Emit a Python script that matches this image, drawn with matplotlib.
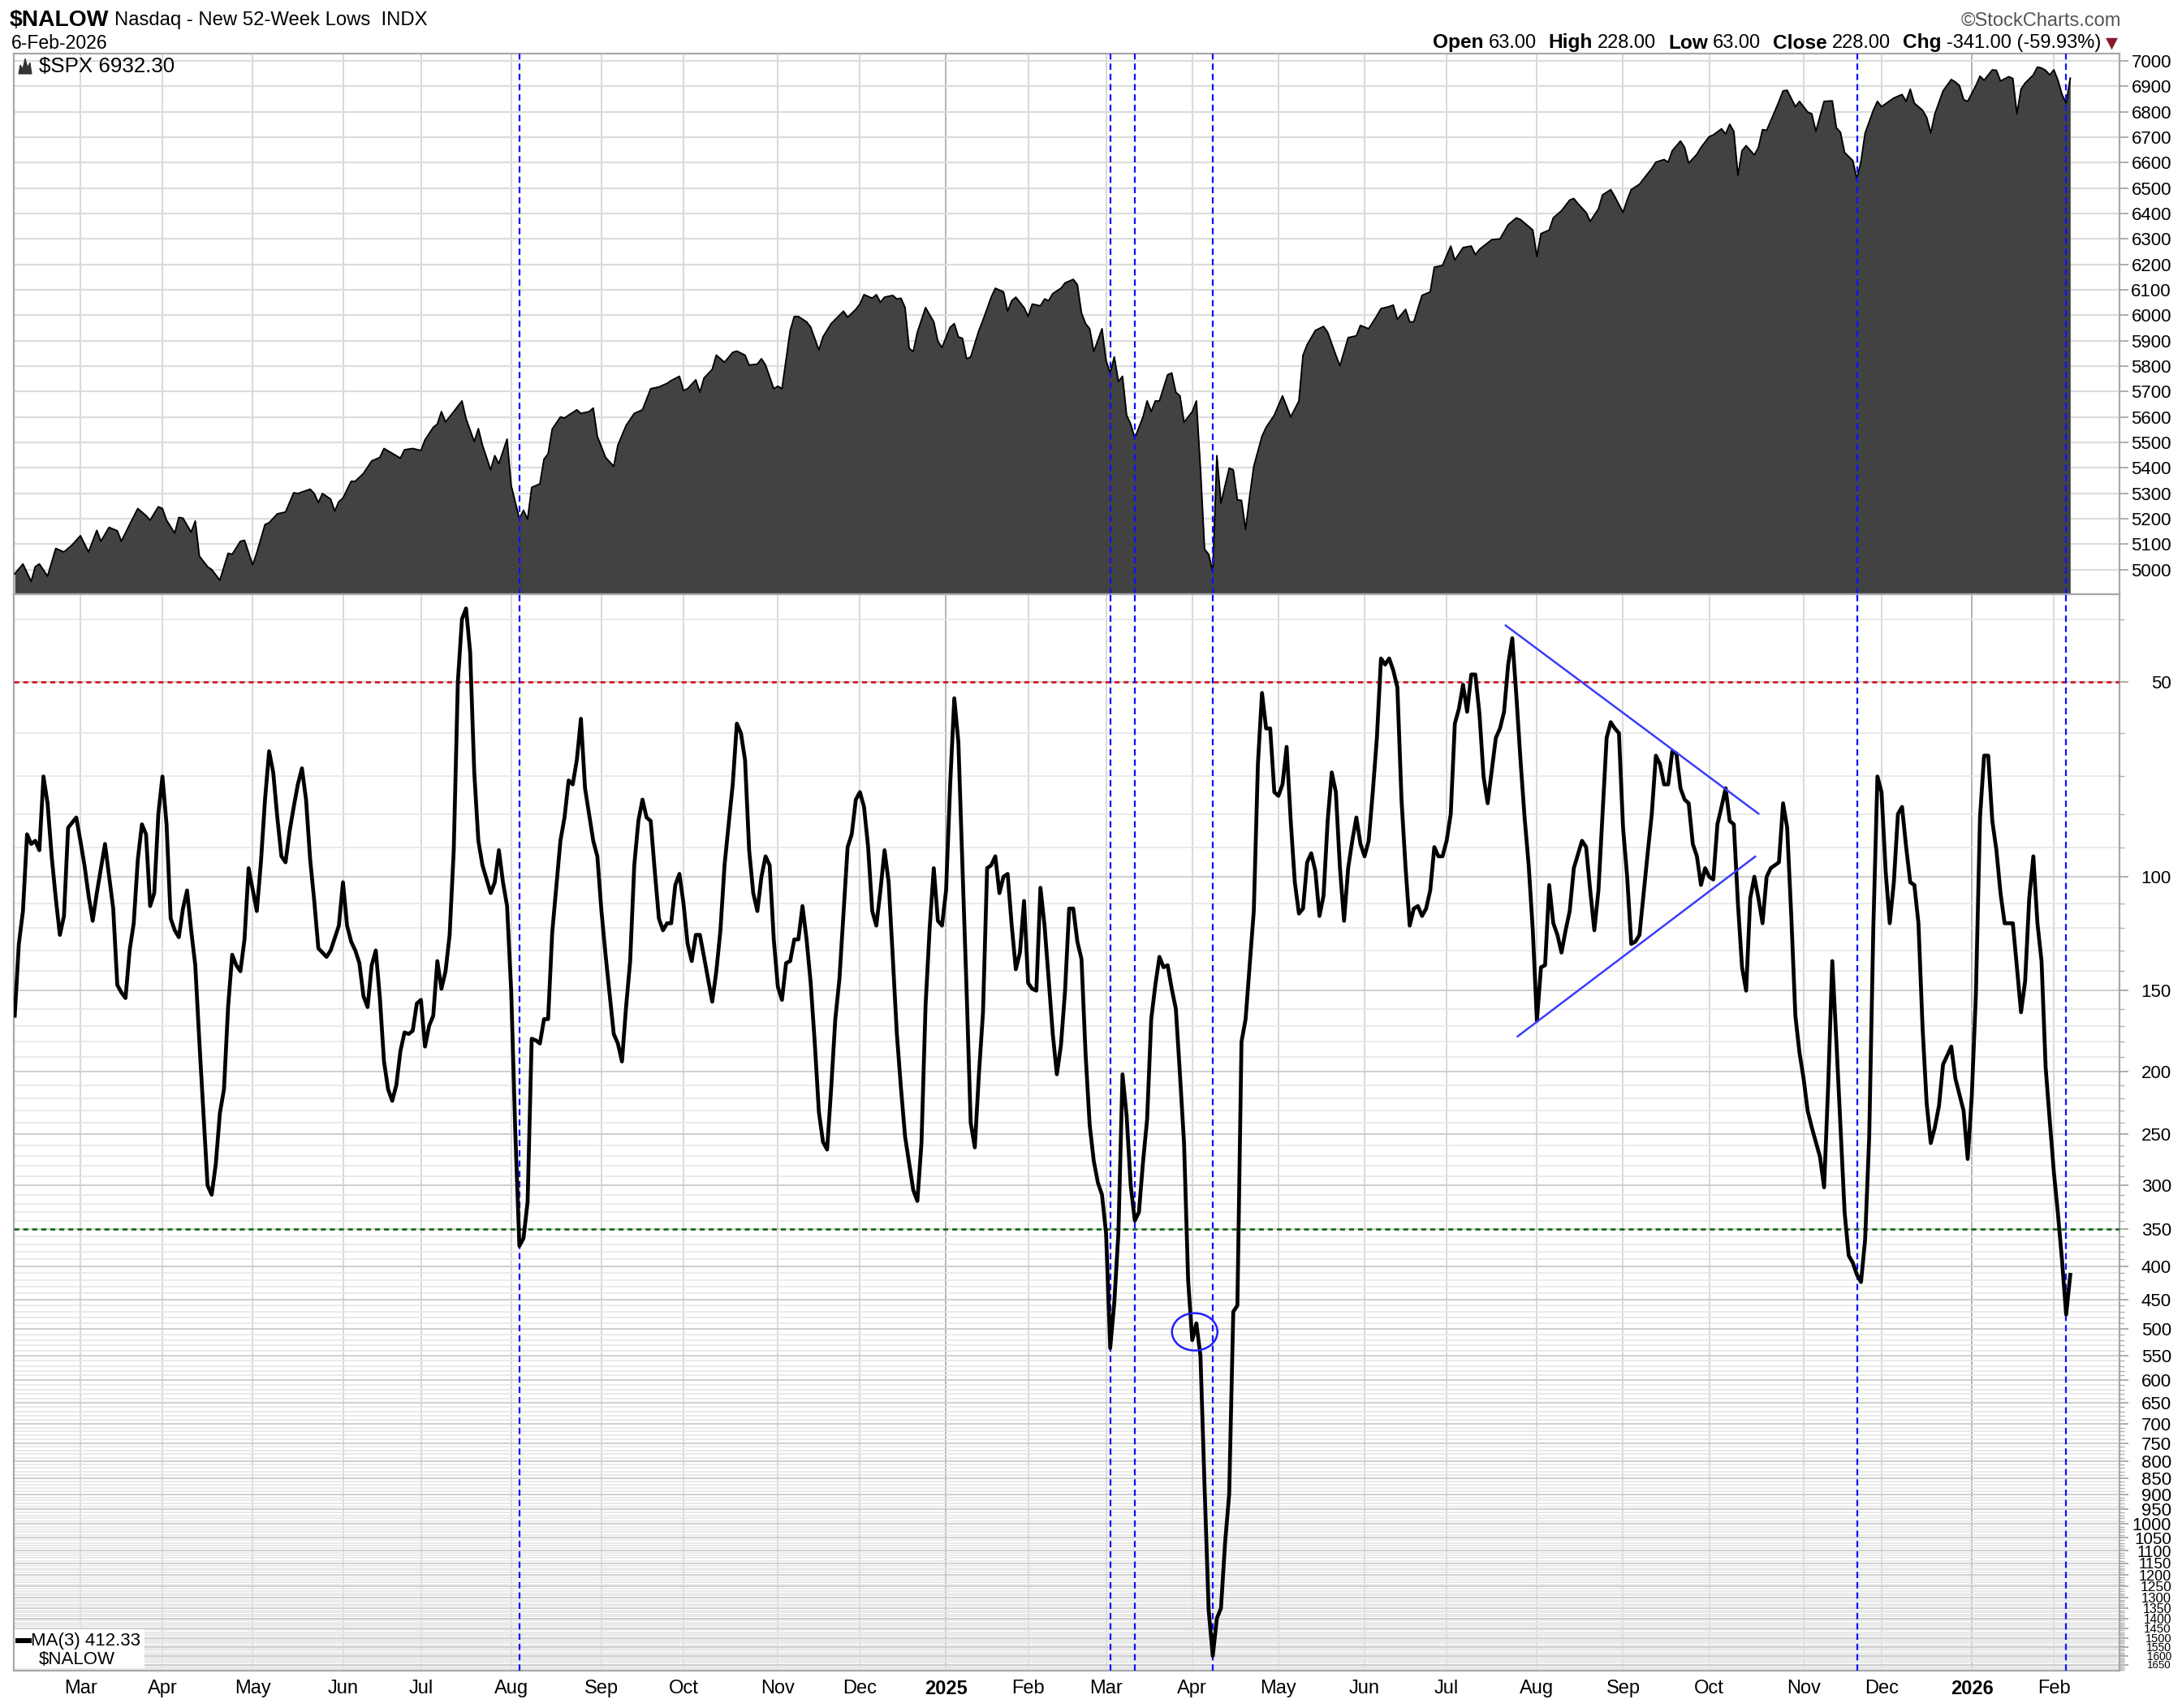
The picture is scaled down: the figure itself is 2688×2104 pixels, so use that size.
import numpy as np
import pandas as pd
import matplotlib
matplotlib.use('Agg')
import matplotlib.pyplot as plt
from matplotlib.patches import Ellipse, Polygon
from matplotlib.lines import Line2D
from matplotlib.transforms import ScaledTranslation
from matplotlib.ticker import FixedLocator, FixedFormatter, NullFormatter

# NYSE trading calendar, session 0 = 6-Feb-2024
holidays = ['2024-02-19', '2024-03-29', '2024-05-27', '2024-06-19', '2024-07-04',
            '2024-09-02', '2024-11-28', '2024-12-25', '2025-01-01', '2025-01-09',
            '2025-01-20', '2025-02-17', '2025-04-18', '2025-05-26', '2025-06-19',
            '2025-07-04', '2025-09-01', '2025-11-27', '2025-12-25', '2026-01-01',
            '2026-01-19', '2026-02-16']
sessions = pd.bdate_range('2024-02-06', '2026-03-31', freq='C', holidays=holidays)

# $SPX close (session number, close)
spx_day = [1, 3, 5, 6, 7, 9, 11, 13, 15, 17, 19, 21, 22, 24, 26, 27, 29, 31, 33, 34,
           36, 37, 38, 40, 41, 42, 44, 45, 46, 48, 49, 51, 53, 54, 56, 57, 59, 60, 62, 63,
           65, 67, 69, 70, 73, 74, 75, 76, 78, 79, 80, 81, 83, 84, 86, 88, 90, 91, 93, 95,
           96, 98, 100, 101, 103, 104, 105, 106, 108, 110, 111, 113, 114, 115, 117, 118, 119, 121, 122, 124,
           125, 126, 127, 129, 130, 131, 132, 134, 135, 136, 138, 139, 141, 142, 143, 145, 147, 148, 150, 152,
           154, 156, 158, 160, 161, 163, 164, 165, 167, 168, 169, 171, 172, 174, 176, 177, 179, 180, 182, 183,
           184, 186, 187, 188, 190, 191, 192, 194, 195, 197, 198, 200, 203, 204, 206, 207, 208, 210, 211, 212,
           213, 215, 216, 217, 218, 219, 220, 221, 223, 225, 226, 227, 229, 230, 231, 232, 233, 234, 236, 237,
           239, 240, 242, 243, 244, 245, 247, 248, 249, 251, 252, 253, 254, 256, 257, 259, 260, 261, 262, 263,
           264, 266, 267, 268, 269, 270, 271, 272, 273, 274, 276, 277, 278, 279, 280, 282, 283, 284, 285, 286,
           288, 289, 290, 291, 292, 293, 294, 295, 297, 298, 299, 300, 301, 302, 303, 305, 306, 308, 310, 312,
           314, 315, 316, 318, 320, 321, 323, 324, 326, 328, 329, 331, 333, 334, 336, 337, 338, 340, 341, 342,
           344, 346, 347, 349, 351, 352, 354, 356, 357, 358, 361, 363, 365, 367, 368, 370, 371, 372, 373, 375,
           376, 378, 380, 381, 382, 384, 385, 387, 388, 390, 391, 393, 394, 395, 397, 398, 400, 401, 403, 404,
           405, 407, 408, 409, 411, 412, 414, 415, 417, 418, 419, 420, 421, 422, 423, 425, 426, 427, 428, 430,
           431, 432, 433, 435, 436, 438, 439, 440, 442, 444, 445, 446, 447, 449, 450, 451, 452, 454, 455, 456,
           458, 459, 461, 462, 463, 464, 466, 467, 468, 469, 471, 473, 474, 475, 476, 477, 479, 480, 481, 483,
           484, 485, 487, 488, 489, 490, 491, 493, 494, 495, 496, 497, 498, 499, 500, 501, 502]
spx_close = [4983, 5022, 4953, 5011, 5022, 4974, 5083, 5069, 5097, 5133, 5069, 5154, 5111, 5166, 5152, 5111, 5177, 5240, 5212, 5194,
             5247, 5240, 5194, 5143, 5205, 5202, 5147, 5191, 5053, 5011, 5000, 4958, 5064, 5060, 5111, 5115, 5018, 5066, 5177, 5184,
             5219, 5226, 5302, 5299, 5316, 5299, 5263, 5299, 5277, 5230, 5267, 5281, 5347, 5347, 5378, 5427, 5441, 5476, 5457, 5438,
             5471, 5476, 5468, 5510, 5559, 5572, 5621, 5580, 5621, 5663, 5593, 5503, 5554, 5489, 5392, 5448, 5416, 5513, 5330, 5200,
             5233, 5198, 5323, 5337, 5434, 5455, 5552, 5600, 5596, 5607, 5628, 5614, 5621, 5635, 5524, 5441, 5406, 5489, 5566, 5614,
             5628, 5711, 5718, 5732, 5743, 5760, 5704, 5711, 5746, 5697, 5753, 5787, 5843, 5815, 5854, 5859, 5843, 5804, 5808, 5829,
             5804, 5711, 5721, 5711, 5940, 5995, 5995, 5974, 5953, 5863, 5915, 5967, 6016, 5992, 6023, 6044, 6081, 6067, 6081, 6051,
             6071, 6078, 6064, 6067, 6030, 5870, 5857, 5933, 6030, 5974, 5898, 5873, 5953, 5967, 5915, 5909, 5829, 5836, 5940, 5981,
             6071, 6106, 6092, 6016, 6057, 6071, 6030, 5995, 6044, 6037, 6064, 6057, 6085, 6106, 6127, 6141, 6120, 6009, 5967, 5947,
             5857, 5947, 5822, 5773, 5836, 5739, 5760, 5607, 5572, 5517, 5600, 5663, 5621, 5663, 5663, 5766, 5773, 5697, 5683, 5579,
             5621, 5663, 5396, 5080, 5060, 4990, 5448, 5261, 5399, 5392, 5274, 5272, 5157, 5288, 5406, 5524, 5559, 5607, 5683, 5600,
             5663, 5843, 5884, 5940, 5956, 5933, 5843, 5801, 5912, 5919, 5960, 5947, 5998, 6026, 6034, 6040, 5984, 6023, 5974, 5974,
             6078, 6092, 6189, 6196, 6272, 6217, 6266, 6272, 6238, 6259, 6297, 6300, 6356, 6383, 6376, 6349, 6335, 6231, 6321, 6335,
             6383, 6411, 6453, 6459, 6439, 6404, 6369, 6418, 6473, 6494, 6466, 6404, 6453, 6494, 6515, 6536, 6577, 6602, 6612, 6602,
             6647, 6685, 6660, 6598, 6633, 6660, 6702, 6709, 6733, 6713, 6751, 6723, 6550, 6647, 6667, 6630, 6660, 6730, 6727, 6802,
             6841, 6882, 6885, 6820, 6841, 6799, 6792, 6723, 6841, 6843, 6737, 6719, 6640, 6608, 6536, 6605, 6716, 6806, 6841, 6820,
             6843, 6854, 6868, 6841, 6889, 6834, 6806, 6778, 6716, 6792, 6882, 6927, 6917, 6903, 6848, 6841, 6903, 6940, 6924, 6965,
             6963, 6921, 6938, 6931, 6792, 6889, 6913, 6945, 6976, 6972, 6963, 6945, 6965, 6924, 6868, 6834, 6932.3]

# $NALOW 3-day moving average (session number, value)
nalow_day = [1, 2, 3, 4, 5, 6, 7, 8, 9, 10, 11, 12, 13, 14, 16, 17, 18, 19, 20, 21,
             23, 25, 26, 27, 28, 29, 30, 31, 32, 33, 34, 35, 36, 37, 38, 39, 40, 41, 42, 43,
             44, 45, 46, 47, 48, 49, 50, 51, 52, 53, 54, 55, 56, 57, 58, 60, 61, 62, 63, 64,
             65, 66, 67, 68, 69, 70, 71, 72, 73, 74, 75, 76, 77, 78, 80, 81, 82, 83, 84, 85,
             86, 87, 88, 89, 90, 91, 92, 93, 94, 95, 96, 97, 98, 99, 100, 101, 102, 103, 104, 105,
             106, 107, 108, 109, 110, 111, 112, 113, 114, 115, 117, 118, 119, 120, 121, 122, 123, 124, 125, 126,
             127, 128, 129, 130, 131, 132, 134, 135, 136, 137, 138, 139, 140, 142, 143, 144, 145, 147, 148, 149,
             150, 151, 152, 153, 154, 155, 156, 157, 158, 159, 160, 161, 162, 163, 164, 165, 166, 167, 168, 169,
             171, 172, 173, 174, 175, 176, 177, 178, 179, 180, 181, 182, 183, 184, 185, 186, 187, 188, 189, 190,
             191, 192, 193, 194, 195, 196, 197, 198, 199, 200, 201, 202, 204, 205, 206, 207, 208, 209, 210, 211,
             212, 213, 214, 215, 216, 217, 218, 220, 221, 222, 223, 224, 225, 226, 227, 228, 229, 230, 231, 232,
             233, 234, 235, 236, 237, 238, 239, 240, 241, 242, 243, 244, 245, 246, 247, 248, 249, 250, 251, 252,
             253, 254, 255, 256, 257, 258, 259, 260, 261, 262, 263, 264, 265, 266, 267, 268, 269, 270, 271, 272,
             273, 274, 275, 276, 277, 278, 279, 280, 281, 282, 283, 284, 285, 286, 287, 288, 289, 290, 291, 292,
             293, 294, 295, 296, 297, 298, 299, 300, 301, 302, 303, 304, 305, 306, 307, 308, 309, 310, 311, 312,
             313, 314, 315, 316, 317, 318, 319, 320, 321, 322, 323, 324, 325, 326, 327, 328, 329, 330, 331, 332,
             333, 334, 335, 336, 337, 338, 339, 340, 341, 342, 343, 344, 345, 346, 347, 348, 349, 350, 351, 352,
             353, 354, 355, 356, 357, 358, 359, 360, 362, 363, 364, 365, 366, 367, 368, 369, 370, 371, 372, 373,
             374, 375, 376, 377, 378, 379, 380, 381, 383, 384, 385, 386, 387, 388, 389, 390, 391, 392, 393, 394,
             395, 396, 397, 399, 400, 401, 402, 403, 404, 405, 406, 407, 408, 409, 410, 411, 412, 413, 414, 415,
             416, 417, 418, 419, 420, 421, 422, 423, 424, 425, 426, 427, 428, 429, 430, 431, 432, 433, 434, 435,
             436, 437, 438, 439, 441, 442, 443, 444, 445, 446, 447, 448, 449, 450, 451, 452, 453, 454, 455, 456,
             457, 458, 459, 460, 461, 462, 463, 464, 465, 466, 467, 468, 469, 470, 471, 472, 473, 474, 476, 477,
             478, 479, 480, 481, 482, 483, 484, 485, 486, 488, 489, 490, 491, 492, 493, 494, 495, 496, 497, 498,
             499, 500, 501, 502]
nalow_ma3 = [164, 127, 113, 86, 89, 88, 91, 70, 77, 93, 108, 123, 115, 84, 81, 88, 96, 107, 117, 106,
             89, 112, 147, 151, 154, 130, 118, 94, 83, 86, 111, 106, 80, 70, 83, 116, 121, 124, 112, 105,
             121, 137, 180, 232, 300, 310, 278, 232, 213, 159, 132, 137, 140, 125, 97, 113, 95, 76, 64, 69,
             81, 93, 95, 85, 78, 72, 68, 76, 94, 109, 129, 131, 133, 130, 119, 102, 119, 126, 130, 136,
             153, 159, 137, 130, 154, 193, 213, 222, 210, 186, 174, 175, 173, 157, 155, 183, 170, 164, 135, 149,
             140, 123, 91, 50, 40, 38.5, 45, 69, 88, 96, 106, 102, 91, 102, 111, 150, 248, 372, 362, 318,
             178, 179, 181, 166, 166, 122, 88, 81, 71, 72, 66, 57, 73, 88, 93, 113, 132, 175, 181, 193,
             159, 135, 96, 82, 76, 81, 82, 98, 116, 121, 118, 118, 103, 99, 110, 127, 135, 123, 123, 133,
             156, 140, 121, 96, 83, 72, 58, 60, 66, 91, 106, 113, 100, 93, 96, 125, 148, 155, 136, 135,
             125, 125, 111, 125, 146, 181, 231, 257, 264, 212, 166, 144, 90, 86, 76, 74, 78, 90, 113, 119,
             105, 91, 102, 133, 175, 212, 252, 305, 317, 258, 158, 120, 97, 117, 119, 105, 72, 53, 62, 97,
             150, 240, 262, 202, 162, 97, 96, 93, 106, 100, 99, 119, 139, 131, 109, 146, 149, 150, 104, 119,
             144, 175, 202, 182, 150, 112, 112, 126, 134, 188, 242, 275, 297, 310, 356, 535, 455, 355, 202, 234,
             300, 340, 330, 276, 237, 166, 147, 133, 138, 137, 149, 160, 202, 258, 421, 520, 490, 550, 876, 1360,
             1600, 1400, 1350, 1070, 900, 470, 460, 180, 166, 137, 113, 67, 52, 59, 59, 74, 75, 72, 63, 82,
             102, 114, 112, 95, 92, 98, 115, 107, 82, 69, 74, 97, 117, 97, 88, 81, 89, 93, 88, 74,
             61, 46, 47, 46, 48, 51, 76, 97, 119, 112, 111, 115, 112, 105, 90, 93, 93, 88, 80, 58,
             55, 50.5, 55.6, 48.7, 48.7, 56, 70, 77, 61, 59, 55.6, 47, 42.8, 52.6, 66, 81, 96, 121, 167, 138,
             137, 103, 118, 123, 131, 121, 113, 97, 88, 90, 105, 121, 105, 80, 61, 57.7, 59, 60, 84, 100,
             127, 126, 123, 92, 80, 65, 67, 72, 72, 64, 64.5, 73, 76, 77, 89, 93, 103, 97, 100, 101,
             83, 78, 73, 82, 83, 110, 138, 150, 108, 100, 108, 118, 100, 97, 96, 95, 77, 84, 115, 164,
             187, 205, 230, 244, 271, 302, 210, 135, 180, 244, 330, 385, 395, 412, 423, 364, 252, 120, 70, 74,
             98, 118, 102, 80, 78, 90, 102, 103, 118, 171, 224, 258, 244, 226, 195, 189, 183, 205, 230, 273,
             218, 152, 81, 65, 65, 82, 91, 106, 118, 118, 138, 162, 145, 108, 93, 118, 135, 197, 238, 286,
             332, 392, 475, 412.33]

# annotations drawn on the chart
event_days = [124, 268, 274, 293, 450, 501]
upper_trend = ([364.4, 426.0], [40.9, 79.9])
lower_trend = ([367.3, 425.2], [176.5, 93.1])
circle_at = (288.6, 505)
upper_level, lower_level = 50, 350

header_names = ['Open', 'High', 'Low', 'Close', 'Chg']
header_values = ['63.00', '228.00', '63.00', '228.00', '-341.00 (-59.93%)']

# ---- figure ----
W, H, DPI = 2688, 2104, 200
fig = plt.figure(figsize=(W / DPI, H / DPI), dpi=DPI)
narrow = ['Liberation Sans Narrow', 'Liberation Sans', 'DejaVu Sans']
plt.rcParams['font.family'] = ['Liberation Sans', 'DejaVu Sans']

L, R = 17 / W, 2611 / W
ax1 = fig.add_axes([L, 1 - 732 / H, R - L, (732 - 66) / H])
ax2 = fig.add_axes([L, 1 - 2058 / H, R - L, (2058 - 732) / H], sharex=ax1)

months = pd.date_range('2024-03-01', '2026-02-01', freq='MS')
month_pos = [int(sessions.searchsorted(m)) for m in months]
month_lbl = [str(m.year) if m.month == 1 else m.strftime('%b') for m in months]

for ax in (ax1, ax2):
    for p, m in zip(month_pos, months):
        ax.axvline(p, color='#b4b4b4' if m.month == 1 else '#d8d8d8', lw=0.7, zorder=0)
    for d in event_days:
        ax.axvline(d, color='#1010ff', lw=0.8, dashes=(3.5, 2.2), zorder=4)
    for s in ax.spines.values():
        s.set_color('#a8a8a8')
        s.set_linewidth(0.8)

# top panel: SPX area
ax1.fill_between(spx_day, spx_close, 4800, color='#424242', lw=0, zorder=2)
ax1.plot(spx_day, spx_close, color='black', lw=0.7, zorder=3)
ax1.set_ylim(4903, 7029)
ax1.set_xlim(0.77, 514)
ax1.yaxis.tick_right()
ax1.yaxis.set_major_locator(FixedLocator(np.arange(5000, 7001, 100)))
ax1.grid(axis='y', color='#dcdcdc', lw=0.8, zorder=0)
ax1.tick_params(axis='y', length=4, width=0.6, color='#a0a0a0', labelsize=8, pad=19)
ax1.tick_params(axis='x', length=0, labelbottom=False)
plt.setp(ax1.get_yticklabels(), ha='right')

# bottom panel: NALOW MA(3), inverted log scale
ax2.plot(nalow_day, nalow_ma3, color='black', lw=1.7, zorder=5, solid_joinstyle='round')
ax2.set_yscale('log')
ax2.set_ylim(1686, 36.6)
ax2.yaxis.tick_right()
major = list(range(50, 1651, 50))
minor = [v for v in range(40, 1690, 10) if v % 50]
ax2.yaxis.set_major_locator(FixedLocator(major))
ax2.yaxis.set_major_formatter(FixedFormatter([str(v) for v in major]))
ax2.yaxis.set_minor_locator(FixedLocator(minor))
ax2.yaxis.set_minor_formatter(NullFormatter())
ax2.grid(axis='y', which='major', color='#cfcfcf', lw=0.7, zorder=0)
ax2.grid(axis='y', which='minor', color='#e6e6e6', lw=0.6, zorder=0)
ax2.tick_params(axis='y', which='major', length=4, width=0.6, color='#a0a0a0', labelsize=8, pad=19)
ax2.tick_params(axis='y', which='minor', length=2, width=0.5, color='#b0b0b0')
# the labels crowd together at the bottom of the log scale: shrink them to fit
px_per_doubling = (2058 - 732) / np.log2(1686 / 36.6)
for v, lbl in zip(major, ax2.get_yticklabels()):
    gap = px_per_doubling * np.log2((v + 50) / v)
    lbl.set_fontsize(min(8, gap * 0.46))
    lbl.set_ha('right')

ax2.axhline(upper_level, color='#d01c28', lw=1.0, dashes=(2.2, 1.8), zorder=3)
ax2.axhline(lower_level, color='#1e6b1e', lw=1.0, dashes=(2.2, 1.8), zorder=3)
ax2.plot(*upper_trend, color='#3b3bff', lw=0.9, zorder=6)
ax2.plot(*lower_trend, color='#3b3bff', lw=0.9, zorder=6)
tr = fig.dpi_scale_trans + ScaledTranslation(circle_at[0], circle_at[1], ax2.transData)
ax2.add_patch(Ellipse((0, 0), 56 / DPI, 46 / DPI, transform=tr, fill=False,
                      ec='#2020ff', lw=0.9, zorder=7))

ax2.set_xticks(month_pos)
ax2.set_xticklabels(month_lbl)
ax2.tick_params(axis='x', length=0, pad=4, labelsize=8.5)
for lbl, m in zip(ax2.get_xticklabels(), months):
    lbl.set_family(narrow)
    if m.month == 1:
        lbl.set_fontweight('bold')

# legends inside panels
ax1.text((48 - 17) / 2594, 1 - 16 / 666, '$SPX 6932.30', transform=ax1.transAxes,
         ha='left', va='center', fontsize=9.3, family=narrow, zorder=8)
icon = [(23, 91), (25, 80), (28, 85), (31, 72), (34, 83), (37, 77), (39, 91)]
ax1.add_patch(Polygon([((x - 17) / 2594, 1 - (y - 66) / 666) for x, y in icon],
                      closed=True, transform=ax1.transAxes, fc='#333333', ec='#333333',
                      lw=0.4, zorder=8))

ax2.add_patch(plt.Rectangle((0.0005, 0.002), 160 / 2594, 48 / 1326, transform=ax2.transAxes,
                            fc='white', ec='none', zorder=8))
ax2.add_line(Line2D([5 / 2594, 19 / 2594], [1 - 1289 / 1326] * 2, transform=ax2.transAxes,
                    color='black', lw=2.2, zorder=9))
ax2.text(21 / 2594, 1 - 1289 / 1326, 'MA(3) 412.33', transform=ax2.transAxes, ha='left',
         va='center', fontsize=8, family=narrow, zorder=9)
ax2.text(31 / 2594, 1 - 1313 / 1326, '$NALOW', transform=ax2.transAxes, ha='left',
         va='center', fontsize=8, family=narrow, zorder=9)

# header text
renderer = fig.canvas.get_renderer()
t = fig.text(12 / W, 1 - 25 / H, '$NALOW', fontsize=10.2, fontweight='bold', family=narrow,
             ha='left', va='center')
x_end = t.get_window_extent(renderer).x1
fig.text((x_end + 7) / W, 1 - 25 / H, 'Nasdaq - New 52-Week Lows  INDX', fontsize=8.6,
         family=narrow, ha='left', va='center')
fig.text(14 / W, 1 - 53 / H, '6-Feb-2026', fontsize=8.3, family=narrow, ha='left', va='center')
fig.text(2613 / W, 1 - 26 / H, '\u00a9StockCharts.com', fontsize=8.5, family=narrow, color='#555555',
         ha='right', va='center')

x = 2609
t = fig.text(x / W, 1 - 53 / H, '\u25bc', fontsize=7, color='#8b1a2b', ha='right', va='center',
             family=['DejaVu Sans'])
x -= t.get_window_extent(renderer).width + 6
for name, val in reversed(list(zip(header_names, header_values))):
    t = fig.text(x / W, 1 - 53 / H, val, fontsize=8.5, family=narrow, ha='right', va='center')
    x -= t.get_window_extent(renderer).width + 6
    t = fig.text(x / W, 1 - 53 / H, name, fontsize=8.8, family=narrow, fontweight='bold',
                 ha='right', va='center')
    x -= t.get_window_extent(renderer).width + 15

fig.savefig('out.png', dpi=DPI, facecolor='white')
